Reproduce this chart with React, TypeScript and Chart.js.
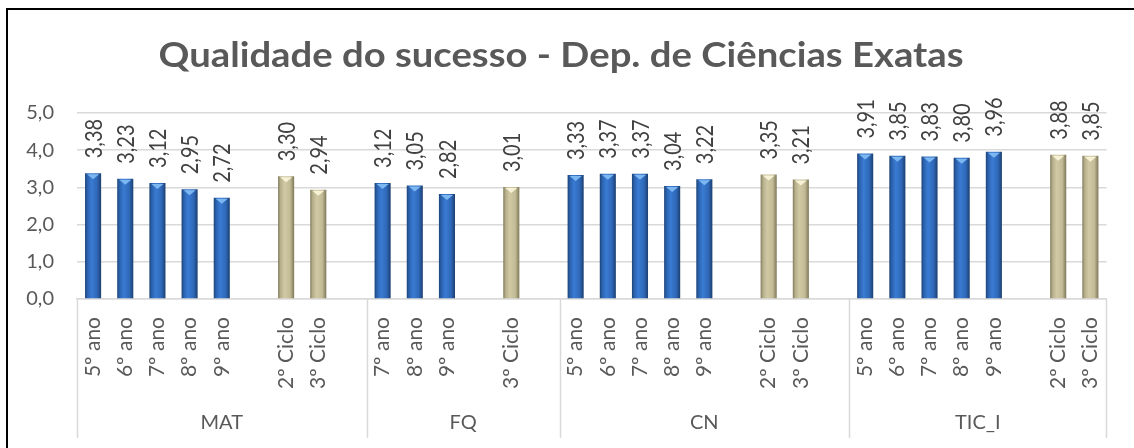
import React, { useEffect, useRef } from 'react';
import { Chart, registerables } from 'chart.js';

Chart.register(...registerables);

const TITLE = 'Qualidade do sucesso - Dep. de Ciências Exatas';

const GROUPS = ['MAT', 'FQ', 'CN', 'TIC_I'];

const MAT_LABELS = ['5º ano', '6º ano', '7º ano', '8º ano', '9º ano', '', '2º Ciclo', '3º Ciclo', ''];
const FQ_LABELS = ['7º ano', '8º ano', '9º ano', '', '3º Ciclo', ''];
const CN_LABELS = ['5º ano', '6º ano', '7º ano', '8º ano', '9º ano', '', '2º Ciclo', '3º Ciclo', ''];
const TIC_LABELS = ['5º ano', '6º ano', '7º ano', '8º ano', '9º ano', '', '2º Ciclo', '3º Ciclo'];

// "ano" (years) series
const MAT_YEARS = [3.38, 3.23, 3.12, 2.95, 2.72, null, null, null, null];
const FQ_YEARS = [3.12, 3.05, 2.82, null, null, null];
const CN_YEARS = [3.33, 3.37, 3.37, 3.04, 3.22, null, null, null, null];
const TIC_YEARS = [3.91, 3.85, 3.83, 3.80, 3.96, null, null, null];

// "Ciclo" (cycles) series
const MAT_CYCLES = [null, null, null, null, null, null, 3.30, 2.94, null];
const FQ_CYCLES = [null, null, null, null, 3.01, null];
const CN_CYCLES = [null, null, null, null, null, null, 3.35, 3.21, null];
const TIC_CYCLES = [null, null, null, null, null, null, 3.88, 3.85];

const Y_MIN = 0;
const Y_MAX = 5;
const Y_STEP = 1;

const GROUP_LABELS = [MAT_LABELS, FQ_LABELS, CN_LABELS, TIC_LABELS];
const LABELS = GROUP_LABELS.flat();
const YEARS = [...MAT_YEARS, ...FQ_YEARS, ...CN_YEARS, ...TIC_YEARS];
const CYCLES = [...MAT_CYCLES, ...FQ_CYCLES, ...CN_CYCLES, ...TIC_CYCLES];

const FONT = 'Lato, "Open Sans", sans-serif';
const BAR_PCT = 0.5;

function barGradient(c: any, stops: [number, string][], fallback: string) {
  const chart = c.chart;
  const xs = chart.scales && chart.scales.x;
  if (!xs || c.dataIndex == null || !isFinite(xs.width) || xs.width <= 0) return fallback;
  const cx = xs.getPixelForValue(c.dataIndex);
  const w = (xs.width / LABELS.length) * BAR_PCT;
  if (!isFinite(cx)) return fallback;
  const g = chart.ctx.createLinearGradient(cx - w / 2, 0, cx + w / 2, 0);
  stops.forEach(([o, col]) => g.addColorStop(o, col));
  return g;
}

const BLUE_STOPS: [number, string][] = [
  [0, '#1C4376'],
  [0.15, '#2B62AE'],
  [0.4, '#3A7BD3'],
  [0.75, '#2F68B8'],
  [1, '#1C3F70'],
];
const TAN_STOPS: [number, string][] = [
  [0, '#807A5A'],
  [0.15, '#B6AF8B'],
  [0.4, '#D0C9A4'],
  [0.75, '#C2BB96'],
  [1, '#7E7858'],
];

const framePlugin = {
  id: 'frame',
  beforeDraw(chart: any) {
    const ctx = chart.ctx;
    ctx.save();
    ctx.fillStyle = '#FFFFFF';
    ctx.fillRect(0, 0, chart.width, chart.height);
    ctx.fillStyle = '#000000';
    ctx.fillRect(6, 8, chart.width - 6, 2);
    ctx.fillRect(6, 8, 2, chart.height - 8);
    ctx.restore();
  },
  afterDraw(chart: any) {
    const ctx = chart.ctx;
    const xs = chart.scales.x;
    const area = chart.chartArea;
    const slot = (xs.right - xs.left) / LABELS.length;
    // title
    ctx.save();
    ctx.font = `bold 35px ${FONT}`;
    ctx.fillStyle = '#595959';
    ctx.textAlign = 'center';
    ctx.textBaseline = 'alphabetic';
    const tw = ctx.measureText(TITLE).width;
    ctx.translate(561, 67);
    ctx.scale(805 / tw, 1);
    ctx.fillText(TITLE, 0, 0);
    ctx.restore();

    // group separators + group labels
    ctx.save();
    ctx.strokeStyle = '#D9D9D9';
    ctx.lineWidth = 1.5;
    let start = 0;
    const bounds = [0];
    GROUP_LABELS.forEach((g) => {
      start += g.length;
      bounds.push(start);
    });
    bounds.forEach((b) => {
      const x = Math.round(xs.left + b * slot) + 0.5;
      ctx.beginPath();
      ctx.moveTo(x, area.bottom);
      ctx.lineTo(x, 438);
      ctx.stroke();
    });
    ctx.font = `20px ${FONT}`;
    ctx.fillStyle = '#595959';
    ctx.textAlign = 'center';
    ctx.textBaseline = 'middle';
    GROUPS.forEach((name, i) => {
      const x = xs.left + ((bounds[i] + bounds[i + 1]) / 2) * slot;
      ctx.fillText(name, x, 423);
    });
    ctx.restore();
  },
  afterDatasetsDraw(chart: any) {
    const ctx = chart.ctx;
    ctx.save();
    chart.data.datasets.forEach((ds: any, di: number) => {
      const meta = chart.getDatasetMeta(di);
      const light = di === 0 ? '#7DB7F2' : '#F7F2D6';
      meta.data.forEach((el: any, i: number) => {
        const v = ds.data[i];
        if (v == null) return;
        const w = el.width;
        // bevel triangle at top
        ctx.fillStyle = light;
        ctx.beginPath();
        ctx.moveTo(el.x - w / 2 + 2, el.y + 1);
        ctx.lineTo(el.x + w / 2 - 2, el.y + 1);
        ctx.lineTo(el.x, el.y + 6);
        ctx.closePath();
        ctx.fill();
        // value label
        ctx.save();
        ctx.translate(el.x, el.y - 15);
        ctx.rotate(-Math.PI / 2);
        ctx.scale(1, 1.15);
        ctx.font = `20px ${FONT}`;
        ctx.fillStyle = '#404040';
        ctx.textAlign = 'left';
        ctx.textBaseline = 'middle';
        ctx.fillText(v.toFixed(2).replace('.', ','), 0, 1);
        ctx.restore();
      });
    });
    ctx.restore();
  },
};

export default function App() {
  const ref = useRef<HTMLCanvasElement | null>(null);

  useEffect(() => {
    if (!ref.current) return;
    const chart = new Chart(ref.current, {
      type: 'bar',
      data: {
        labels: LABELS,
        datasets: [
          {
            label: 'Ano',
            data: YEARS,
            backgroundColor: (c: any) => barGradient(c, BLUE_STOPS, '#2E6BBE'),
            borderWidth: 0,
            barPercentage: BAR_PCT,
            categoryPercentage: 1,
          },
          {
            label: 'Ciclo',
            data: CYCLES,
            backgroundColor: (c: any) => barGradient(c, TAN_STOPS, '#C4BD97'),
            borderWidth: 0,
            barPercentage: BAR_PCT,
            categoryPercentage: 1,
          },
        ],
      },
      options: {
        animation: false,
        responsive: false,
        maintainAspectRatio: false,
        layout: { padding: { top: 113, right: 27, left: 0, bottom: 0 } },
        plugins: {
          legend: { display: false },
          title: { display: false },
          tooltip: { enabled: false },
        },
        scales: {
          x: {
            stacked: true,
            grid: { display: false, drawTicks: false },
            border: { display: true, color: '#D9D9D9', width: 1.5 },
            ticks: {
              autoSkip: false,
              minRotation: 90,
              maxRotation: 90,
              padding: 18,
              color: '#595959',
              font: { family: FONT, size: 21 },
            },
            afterFit: (s: any) => {
              s.height = 149;
            },
          },
          y: {
            stacked: true,
            min: Y_MIN,
            max: Y_MAX,
            grid: { color: '#D9D9D9', lineWidth: 1.5, drawTicks: false },
            border: { display: false },
            ticks: {
              stepSize: Y_STEP,
              padding: 23,
              color: '#595959',
              font: { family: FONT, size: 20 },
              callback: (v: any) => Number(v).toFixed(1).replace('.', ','),
            },
            afterFit: (s: any) => {
              s.width = 77;
            },
          },
        },
      },
      plugins: [framePlugin],
    });
    return () => chart.destroy();
  }, []);

  return (
    <div style={{ position: 'fixed', left: 0, top: 0, width: 1134, height: 448, background: '#fff' }}>
      <canvas ref={ref} width={1134} height={448} style={{ display: 'block', width: 1134, height: 448 }} />
    </div>
  );
}
